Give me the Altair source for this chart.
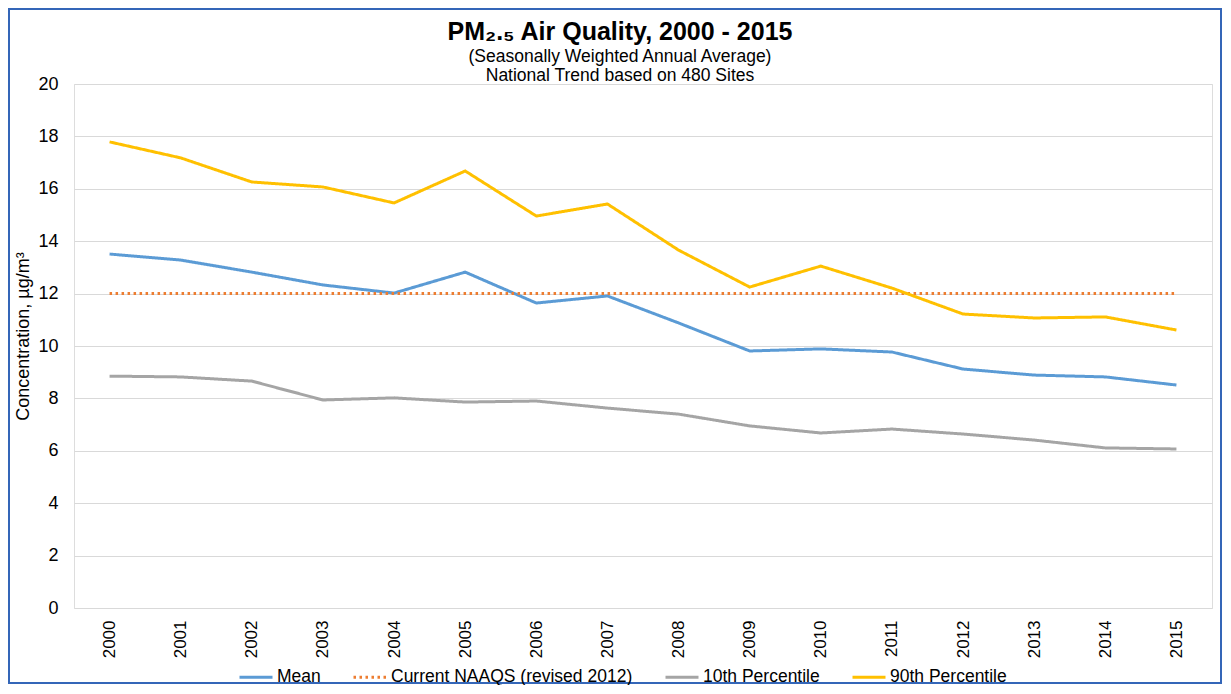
import altair as alt
import pandas as pd

years = [str(y) for y in range(2000, 2016)]
mean_vals = [13.51, 13.28, 12.82, 12.33, 12.02, 12.82, 11.64, 11.91,
             10.88, 9.81, 9.89, 9.77, 9.12, 8.89, 8.82, 8.51]
naaqs_vals = [12.0, 12.0, 12.0, 12.0, 12.0, 12.0, 12.0, 12.0,
              12.0, 12.0, 12.0, 12.0, 12.0, 12.0, 12.0, 12.0]
p10_vals = [8.85, 8.82, 8.66, 7.94, 8.02, 7.86, 7.90, 7.63,
            7.40, 6.95, 6.68, 6.83, 6.64, 6.41, 6.11, 6.07]
p90_vals = [17.79, 17.18, 16.26, 16.07, 15.46, 16.68, 14.96, 15.42,
            13.66, 12.25, 13.05, 12.21, 11.22, 11.07, 11.11, 10.61]

series_names = ["Mean", "Current NAAQS (revised 2012)", "10th Percentile", "90th Percentile"]
series_colors = ["#5b9bd5", "#ed7d31", "#a5a5a5", "#ffc000"]
series_dash = [[1, 0], [2.5, 3.5], [1, 0], [1, 0]]
y_ticks = [0, 2, 4, 6, 8, 10, 12, 14, 16, 18, 20]

rows = []
for name, vals in zip(series_names, [mean_vals, naaqs_vals, p10_vals, p90_vals]):
    for yr, v in zip(years, vals):
        rows.append({"year": yr, "series": name, "value": v,
                     "order": series_names.index(name)})
df = pd.DataFrame(rows)

FONT = "Liberation Sans"

legend_kw = dict(title=None, orient="none", direction="horizontal",
                 columns=4, legendX=164, legendY=575,
                 symbolType="stroke", symbolSize=1089,
                 symbolStrokeWidth=3, labelFont=FONT,
                 labelFontSize=17.5, labelColor="#000000", labelLimit=0,
                 labelOffset=3, columnPadding=26)

lines = alt.Chart(df).mark_line(strokeWidth=3).encode(
    x=alt.X("year:O", sort=years,
            scale=alt.Scale(type="point", padding=0.5),
            axis=alt.Axis(title=None, labelAngle=-90, labelPadding=12,
                          labelFontSize=17, labelFont=FONT, labelColor="#000000",
                          ticks=False, domain=False, grid=False)),
    y=alt.Y("value:Q",
            scale=alt.Scale(domain=[0, 20], nice=False, zero=True),
            axis=alt.Axis(title="Concentration, µg/m³", values=y_ticks,
                          labelFontSize=18, labelFont=FONT, labelColor="#000000",
                          labelPadding=16, ticks=False, domain=False,
                          gridColor="#d9d9d9", gridWidth=1,
                          titleFont=FONT, titleFontSize=18, titleFontWeight="normal",
                          titleColor="#000000", titlePadding=5, titleY=252)),
    color=alt.Color("series:N",
                    scale=alt.Scale(domain=series_names, range=series_colors),
                    legend=alt.Legend(**legend_kw)),
    strokeDash=alt.StrokeDash("series:N",
                              scale=alt.Scale(domain=series_names, range=series_dash),
                              legend=alt.Legend(**legend_kw)),
    order=alt.Order("order:Q"),
)

frame_df = pd.DataFrame({"k": [0]})
frame = alt.Chart(frame_df).mark_rect(fillOpacity=0, stroke="#3466b8", strokeWidth=2).encode(
    x=alt.value(-65), x2=alt.value(1147), y=alt.value(-75), y2=alt.value(599)
)

chart = alt.layer(lines, frame).properties(
    width=1138,
    height=524,
    autosize=alt.AutoSizeParams(type="none"),
    padding={"left": 66, "top": 76, "right": 11, "bottom": 77},
    title=alt.TitleParams(
        text="PM₂.₅ Air Quality, 2000 - 2015",
        subtitle=["(Seasonally Weighted Annual Average)", "National Trend based on 480 Sites"],
        font=FONT, fontSize=25, fontWeight="bold", color="#000000",
        subtitleFont=FONT, subtitleFontSize=17.5, subtitleColor="#000000",
        subtitlePadding=3, subtitleLineHeight=19,
        anchor="middle", frame="group", dx=-23, dy=76, offset=0,
    ),
).configure_view(stroke=None).configure(background="#ffffff")

chart.save("out.html", embed_options={"renderer": "svg", "actions": False})
